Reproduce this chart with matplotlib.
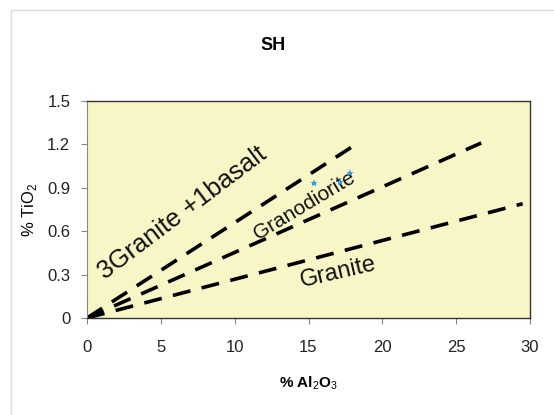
import matplotlib
matplotlib.use("Agg")
import matplotlib.pyplot as plt
from matplotlib.patches import Rectangle

# Mixing lines through the origin (Al2O3 %, TiO2 % at the far end)
line_names = ["3Granite +1basalt", "Granodiorite", "Granite"]
line_end_al2o3 = [17.9, 26.7, 29.5]
line_end_tio2 = [1.18, 1.21, 0.79]

# Sample analyses
sample_al2o3 = [15.4, 17.1, 17.8]
sample_tio2 = [0.93, 0.94, 1.00]

x_ticks = [0, 5, 10, 15, 20, 25, 30]
y_ticks = [0, 0.3, 0.6, 0.9, 1.2, 1.5]
y_tick_labels = ["0", "0.3", "0.6", "0.9", "1.2", "1.5"]

family = "Liberation Sans"
plt.rcParams["font.family"] = [family, "DejaVu Sans"]
plt.rcParams["mathtext.fontset"] = "custom"
plt.rcParams["mathtext.rm"] = family
plt.rcParams["mathtext.bf"] = family + ":bold"

W, H = 554, 415
fig = plt.figure(figsize=(W / 100, H / 100), dpi=100)
fig.patch.set_facecolor("white")
fig.add_artist(Rectangle((11 / W, -0.05), 1.0, 1 - 10 / H + 0.05,
                         transform=fig.transFigure, fill=False,
                         edgecolor="#d9d9d9", linewidth=1.0))

ax = fig.add_axes([87 / W, 1 - 318 / H, (530 - 87) / W, (318 - 101) / H])
ax.set_facecolor("#f8f5c6")
ax.set_xlim(0, 30)
ax.set_ylim(0, 1.5)

for x1, y1 in zip(line_end_al2o3, line_end_tio2):
    ax.plot([0, x1], [0, y1], color="black", linewidth=2.6,
            linestyle=(0, (5, 3.2)), solid_capstyle="butt", dash_capstyle="butt")


def label(px, py, text, size, angle):
    ax.text(px / W, 1 - py / H, text, transform=fig.transFigure,
            fontsize=size, rotation=angle, ha="center", va="center",
            color="#111111", rotation_mode="anchor", zorder=3)


label(182, 213, line_names[0], 18.5, 37)
label(304, 206, line_names[1], 15, 31)
label(338, 272, line_names[2], 17, 13)

ax.plot(sample_al2o3, sample_tio2, linestyle="none", marker="*",
        markersize=6, color="#3a9ae6", markeredgewidth=0, zorder=5)

ax.set_xticks(x_ticks)
ax.set_yticks(y_ticks)
ax.set_yticklabels(y_tick_labels)
ax.tick_params(axis="both", direction="out", length=4, width=0.8,
               color="#888888", labelsize=12, labelcolor="#222222")
ax.tick_params(axis="x", pad=12)
ax.tick_params(axis="y", pad=8)

for side in ["top", "right", "bottom"]:
    ax.spines[side].set_color("#333333")
    ax.spines[side].set_linewidth(1.0)
ax.spines["left"].set_color("#888888")
ax.spines["left"].set_linewidth(0.8)

ax.set_xlabel(r"% Al$_2$O$_3$", fontsize=11, fontweight="bold", labelpad=14)
ax.set_ylabel(r"% TiO$_2$", fontsize=12, labelpad=6)
fig.text(273 / W, 1 - 45 / H, "SH", fontsize=13, fontweight="bold",
         ha="center", va="center")

fig.savefig("out.png", dpi=100, facecolor="white")
